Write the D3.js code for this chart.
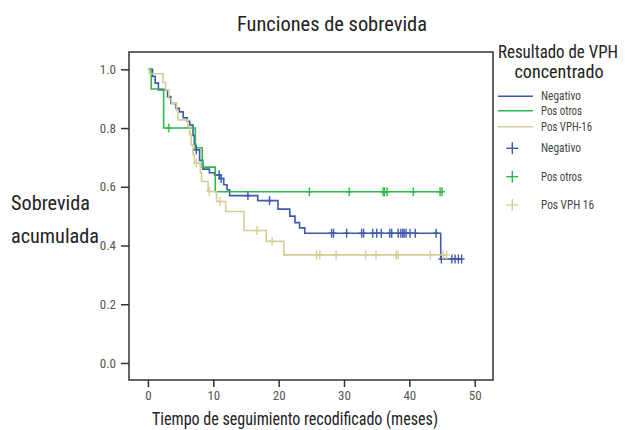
<!DOCTYPE html>
<html>
<head>
<meta charset="utf-8">
<script src="https://cdn.jsdelivr.net/npm/d3@7"></script>
<style>
  body { margin: 0; background: #fff; }
  text { font-family: "Roboto Condensed", "Roboto", "DejaVu Sans Condensed", sans-serif; }
</style>
</head>
<body>
<svg id="chart" width="625" height="430"></svg>
<script>
// series: step points [time, survival after the drop], censor times
var groups = ["Negativo", "Pos otros", "Pos VPH-16"];
var censorLabels = ["Negativo", "Pos otros", "Pos VPH 16"];
var colors = ["#3e58ac", "#2eb848", "#d3ce97"];

var negSteps = [[0.7, 0.976], [1.1, 0.953], [1.6, 0.93], [3.0, 0.907], [3.5, 0.884],
  [4.3, 0.867], [4.8, 0.855], [5.4, 0.835], [6.0, 0.823], [6.4, 0.81], [6.9, 0.775],
  [7.1, 0.745], [7.3, 0.726], [7.9, 0.69], [8.4, 0.66], [9.4, 0.648], [10.2, 0.64],
  [11.0, 0.628], [11.6, 0.607], [12.1, 0.59], [12.5, 0.57], [16.8, 0.553],
  [19.9, 0.524], [21.7, 0.5], [22.5, 0.478], [23.2, 0.46], [24.0, 0.442], [44.8, 0.354]];
var negCensor = [7.4, 10.9, 11.2, 15.3, 18.6, 28.1, 28.4, 30.4, 32.7, 33.0, 34.4, 35.0,
  35.7, 37.0, 37.3, 38.3, 38.7, 39.0, 39.2, 39.5, 40.1, 40.9, 44.1, 44.9, 46.5, 47.0, 47.5, 48.0];

var otrosSteps = [[0.5, 0.933], [2.4, 0.8], [7.25, 0.733], [8.3, 0.667], [10.3, 0.583]];
var otrosCensor = [3.2, 24.7, 30.8, 36.0, 36.2, 36.6, 40.6, 44.7, 45.0];

var vphSteps = [[0.2, 0.985], [2.3, 0.955], [2.7, 0.93], [3.2, 0.9], [3.6, 0.885],
  [4.4, 0.86], [4.6, 0.828], [6.1, 0.806], [6.4, 0.777], [6.6, 0.743], [6.9, 0.709],
  [7.1, 0.68], [8.0, 0.65], [8.2, 0.618], [9.2, 0.584], [10.5, 0.55], [11.9, 0.516],
  [14.7, 0.451], [18.1, 0.414], [20.8, 0.368]];
var vphCensor = [7.4, 9.4, 11.0, 16.7, 19.0, 25.8, 26.3, 28.8, 33.3, 34.9, 38.0, 38.3, 43.2, 45.2, 45.7];

var xTicks = [0, 10, 20, 30, 40, 50];
var yTicks = [0.0, 0.2, 0.4, 0.6, 0.8, 1.0];

var series = [
  {steps: negSteps, censor: negCensor},
  {steps: otrosSteps, censor: otrosCensor},
  {steps: vphSteps, censor: vphCensor}
];

var svg = d3.select("#chart");
var pLeft = 129, pRight = 493, pTop = 52, pBottom = 380;

var x = d3.scaleLinear().domain([-2.9, 52.8]).range([pLeft, pRight]);
var y = d3.scaleLinear().domain([-0.058, 1.059]).range([pBottom, pTop]);

// survival value at time t
function survAt(steps, t) {
  var s = 1;
  steps.forEach(function (d) { if (d[0] <= t) s = d[1]; });
  return s;
}

// text with a fixed width, the original uses a condensed face
function label(px, py, str, size, width, anchor, fill) {
  return svg.append("text").attr("x", px).attr("y", py)
    .attr("text-anchor", anchor || "start")
    .attr("fill", fill || "#222")
    .attr("textLength", width).attr("lengthAdjust", "spacingAndGlyphs")
    .style("font-size", size + "px")
    .text(str);
}

// axes
var xAxis = d3.axisBottom(x).tickValues(xTicks).tickSize(7).tickPadding(4).tickFormat(d3.format("d"));
var yAxis = d3.axisLeft(y).tickValues(yTicks).tickSize(8).tickPadding(5).tickFormat(d3.format(".1f"));

var gx = svg.append("g").attr("transform", "translate(0," + pBottom + ")").call(xAxis);
var gy = svg.append("g").attr("transform", "translate(" + pLeft + ",0)").call(yAxis);
[gx, gy].forEach(function (g) {
  g.select(".domain").remove();
  g.selectAll("line").attr("stroke", "#333").attr("stroke-width", 1.5);
  g.selectAll("text").attr("fill", "#555").style("font-size", "13px")
    .style("font-family", "'Roboto Condensed', Roboto, sans-serif");
});

// curves
series.forEach(function (s, i) {
  var end = d3.max([d3.max(s.censor), s.steps[s.steps.length - 1][0]]);
  var pts = [[0, 1]];
  s.steps.forEach(function (d) { pts.push([d[0], d[1]]); });
  pts.push([end, s.steps[s.steps.length - 1][1]]);
  svg.append("path")
    .datum(pts)
    .attr("d", d3.line().curve(d3.curveStepAfter).x(function (d) { return x(d[0]); }).y(function (d) { return y(d[1]); }))
    .attr("fill", "none")
    .attr("stroke", colors[i])
    .attr("stroke-width", 1.6);
});

series.forEach(function (s, i) {
  var g = svg.append("g").attr("stroke", colors[i]).attr("stroke-width", 1.4);
  s.censor.forEach(function (t) {
    var cx = x(t), cy = y(survAt(s.steps, t));
    g.append("line").attr("x1", cx).attr("x2", cx).attr("y1", cy - 4.5).attr("y2", cy + 4.5);
    g.append("line").attr("x1", cx - 3).attr("x2", cx + 3).attr("y1", cy).attr("y2", cy);
  });
});

// frame
svg.append("rect")
  .attr("x", pLeft).attr("y", pTop)
  .attr("width", pRight - pLeft).attr("height", pBottom - pTop)
  .attr("fill", "none").attr("stroke", "#333").attr("stroke-width", 1.5);

// titles
label(332, 31, "Funciones de sobrevida", 19.5, 190, "middle");
label(295, 425, "Tiempo de seguimiento recodificado (meses)", 17.5, 286, "middle");
label(11, 210, "Sobrevida", 21, 79);
label(11, 242.5, "acumulada", 21, 88);

// legend
label(558, 57.5, "Resultado de VPH", 17.5, 120, "middle");
label(559, 78, "concentrado", 17.5, 89, "middle");

var lineY = [96.3, 110.8, 126.7];
groups.forEach(function (g, i) {
  svg.append("line").attr("x1", 498).attr("x2", 533)
    .attr("y1", lineY[i]).attr("y2", lineY[i])
    .attr("stroke", colors[i]).attr("stroke-width", 1.6);
  label(541, lineY[i] + 4, g, 12, [40, 41, 51][i], "start", "#444");
});

var symY = [148.3, 176.7, 205];
censorLabels.forEach(function (g, i) {
  var cx = 512.3, cy = symY[i];
  svg.append("line").attr("x1", cx).attr("x2", cx).attr("y1", cy - 6).attr("y2", cy + 6)
    .attr("stroke", colors[i]).attr("stroke-width", 1.4);
  svg.append("line").attr("x1", cx - 6).attr("x2", cx + 6).attr("y1", cy).attr("y2", cy)
    .attr("stroke", colors[i]).attr("stroke-width", 1.4);
  label(541, cy + 4, g, 12, [40, 41, 53][i], "start", "#444");
});
</script>
</body>
</html>
